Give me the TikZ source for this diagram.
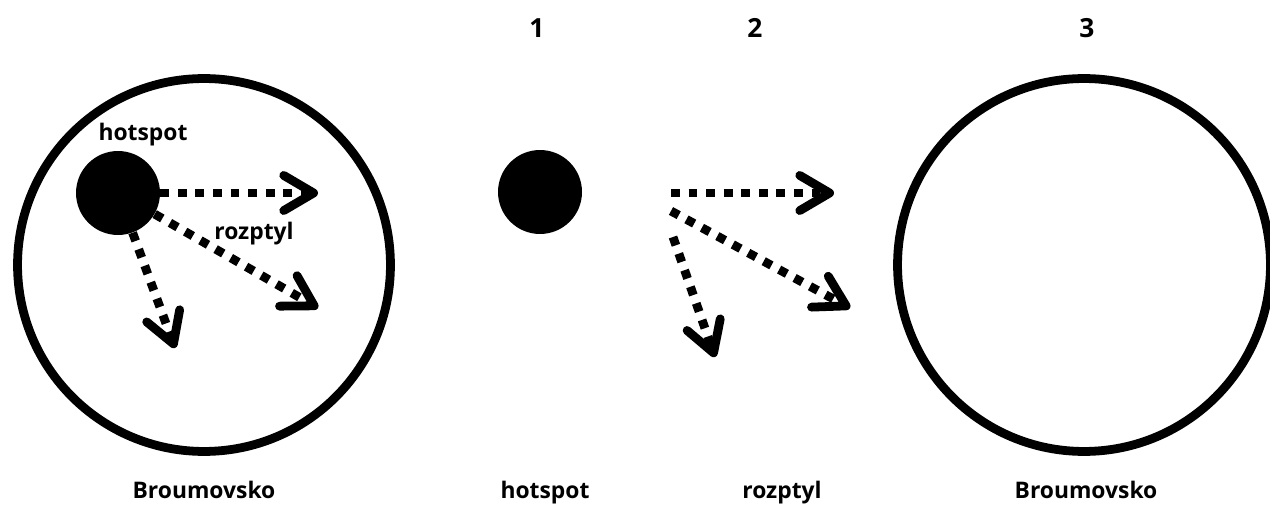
\documentclass[tikz,border=0pt]{standalone}
\usepackage{fontspec}
\setmainfont{Open Sans}
\usetikzlibrary{arrows.meta}
\usetikzlibrary{positioning}

\tikzset{
  area/.style={circle,draw,line width=5pt,minimum size=7.46cm,inner sep=0pt},
  hotdot/.style={circle,fill,minimum size=1.68cm,inner sep=0pt},
  lbl/.style={font=\bfseries\fontsize{13}{15}\selectfont,anchor=base,inner sep=0pt},
  spread/.style={draw=black,line width=5pt,dash pattern=on 5pt off 5pt,
    -{Straight Barb[length=17pt,width=20pt,round]}}
}

\begin{document}
\begin{tikzpicture}[x=0.02cm,y=-0.02cm]
  \useasboundingbox (0,0) rectangle (1270,509);
  % left: the whole region
  \node[area] (reg1) at (204,265) {};
  \node[hotdot] (hs1) at (118,193) {};
  \node[lbl] (hslbl) at (143,141) {hotspot};
  \node[lbl] (rzlbl) at (254,240) {rozptyl};
  \node[lbl] (reglbl1) at (204,498) {Broumovsko};
  \coordinate (a1) at (318,193);
  \coordinate (a2) at (318,308);
  \coordinate (a3) at (175,348);
  % middle and right: the parts
  \node[hotdot] (hs2) at (540,192) {};
  \coordinate (s1) at (671,193);
  \coordinate (s2) at (671,211);
  \coordinate (s3) at (673,237);
  \coordinate (b1) at (834,193);
  \coordinate (b2) at (850,308);
  \coordinate (b3) at (715,357);
  \node[area] (reg2) at (1084,265) {};
  \begin{scope}[every node/.style={lbl}]
    \node (n1) at (537,38) {\fontsize{15}{17}\selectfont 1};
    \node (n2) at (755,38) {\fontsize{15}{17}\selectfont 2};
    \node (n3) at (1087,38) {\fontsize{15}{17}\selectfont 3};
    \node (hsname) at (545,498) {hotspot};
    \node (rzname) at (782,498) {rozptyl};
    \node (reglbl2) at (1086,498) {Broumovsko};
  \end{scope}
  \begin{scope}[every edge/.style={spread}]
    \path (hs1) edge (a1);
    \path (hs1) edge (a2);
    \path (hs1) edge (a3);
    \path (s1) edge (b1);
    \path (s2) edge (b2);
    \path (s3) edge (b3);
  \end{scope}
\end{tikzpicture}
\end{document}
